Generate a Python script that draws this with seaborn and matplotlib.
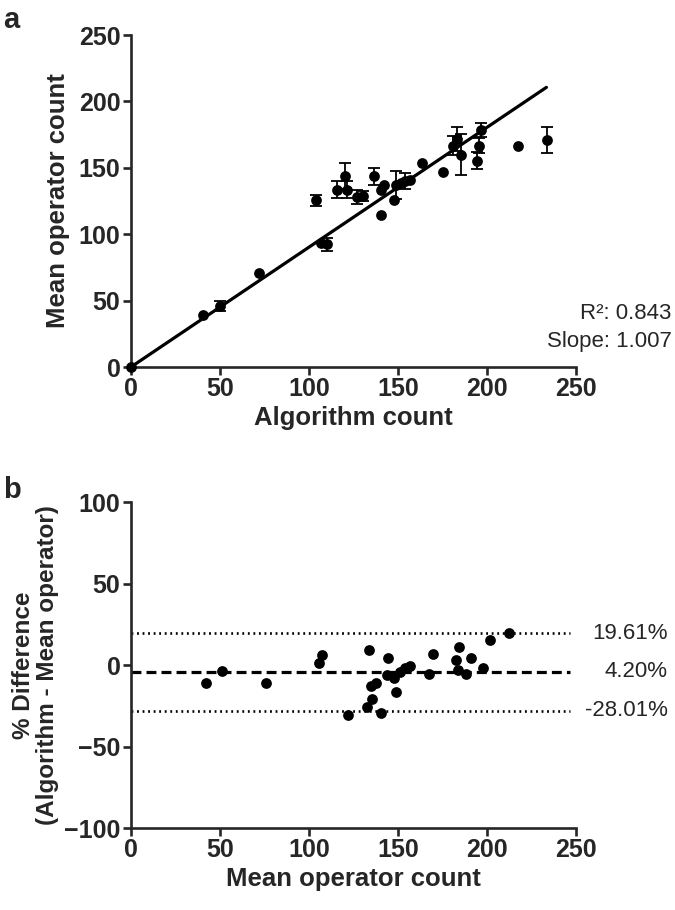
import numpy as np
import pandas as pd
import matplotlib.pyplot as plt
import seaborn as sns

# Panel a: algorithm count vs mean operator count (error bars = SD)
alg_count = [0, 40.4, 49.8, 72.2, 103.9, 106.7, 110.4, 116.0, 120.3, 121.6, 127.2,
             130.3, 136.8, 140.4, 140.5, 142.2, 148.0, 148.8, 151.8, 154.0, 156.8,
             163.4, 175.5, 181.1, 183.4, 185.5, 196.5, 195.6, 194.6, 217.3, 233.9]
op_mean = [0, 39.1, 45.8, 71.1, 125.5, 93.4, 92.4, 133.5, 144.0, 133.5, 128.0,
           128.7, 143.5, 114.2, 133.0, 137.2, 126.0, 137.2, 138.5, 140.0, 140.5,
           153.5, 146.5, 166.8, 171.8, 160.0, 178.6, 166.8, 155.5, 166.3, 171.0]
op_sd = [0, 0, 3.8, 0, 4.1, 0, 4.8, 6.6, 9.6, 6.3, 5.0,
         4.0, 6.3, 0, 0, 0, 0, 10.4, 0, 6.3, 0,
         0, 0, 6.9, 9.0, 15.6, 5.3, 5.4, 6.5, 0, 9.6]
fit_x = [0, 233.5]
fit_y = [0, 210.6]

# Panel b: Bland-Altman style difference plot
mean_op = [42.3, 51.1, 76.0, 105.7, 107.2, 122.2, 132.5, 134.0, 134.8, 135.3,
           137.6, 140.5, 144.1, 144.6, 148.0, 148.8, 151.2, 154.0, 156.8, 167.5,
           169.7, 182.5, 183.6, 184.2, 188.1, 191.2, 198.0, 201.7, 212.6]
pct_diff = [-10.8, -3.7, -11.2, 1.0, 6.1, -30.6, -25.5, 9.2, -12.9, -21.0,
            -10.8, -29.6, -6.1, 4.5, -8.2, -16.3, -4.1, -2.0, -0.6, -5.5,
            6.7, 3.1, -3.1, 10.8, -5.5, 4.1, -1.7, 15.3, 19.8]
loa_upper = 19.61
bias = -4.20
loa_lower = -28.01
line_span = [0, 247]
line_labels = ['19.61%', '4.20%', '-28.01%']

sns.set_style("ticks")
plt.rcParams['font.family'] = ['Liberation Sans', 'DejaVu Sans']

df_a = pd.DataFrame({'alg': alg_count, 'op': op_mean, 'sd': op_sd})
df_b = pd.DataFrame({'mean_op': mean_op, 'diff': pct_diff})

fig = plt.figure(figsize=(6.75, 9.10), dpi=100)
ax1 = fig.add_axes([0.194, 0.5967, 0.659, 0.3648])
ax2 = fig.add_axes([0.194, 0.0901, 0.659, 0.3582])

label_font = dict(fontsize=18.5, fontweight='bold')


def style_axis(ax):
    for side in ['top', 'right']:
        ax.spines[side].set_visible(False)
    for side in ['left', 'bottom']:
        ax.spines[side].set_linewidth(1.9)
    ax.tick_params(width=1.9, length=5.5, direction='out', pad=2)
    for lab in ax.get_xticklabels() + ax.get_yticklabels():
        lab.set_fontsize(18)
        lab.set_fontweight('bold')


# --- Panel a ---
sns.lineplot(x=fit_x, y=fit_y, ax=ax1, color='black', linewidth=2.3)
has_err = df_a[df_a['sd'] > 0]
ax1.errorbar(has_err['alg'], has_err['op'], yerr=has_err['sd'], fmt='none',
             ecolor='black', elinewidth=1.3, capsize=4.5, capthick=1.3, zorder=2)
sns.scatterplot(data=df_a, x='alg', y='op', ax=ax1, color='black', s=60,
                edgecolor='black', linewidth=0, zorder=3, clip_on=False)
ax1.set_xlim(0, 250)
ax1.set_ylim(0, 250)
ax1.set_xticks(np.arange(0, 251, 50))
ax1.set_yticks(np.arange(0, 251, 50))
ax1.set_xlabel('Algorithm count', labelpad=3, **label_font)
ax1.set_ylabel('Mean operator count', labelpad=6, **label_font)
style_axis(ax1)
ax1.text(1.215, 0.160, 'R²: 0.843', transform=ax1.transAxes, ha='right',
         va='center', fontsize=16)
ax1.text(1.215, 0.076, 'Slope: 1.007', transform=ax1.transAxes, ha='right',
         va='center', fontsize=16)

# --- Panel b ---
ax2.plot(line_span, [loa_upper] * 2, color='black', linestyle=(0, (0.7, 1.4)),
         linewidth=1.9, clip_on=False)
ax2.plot(line_span, [loa_lower] * 2, color='black', linestyle=(0, (0.7, 1.4)),
         linewidth=1.9, clip_on=False)
ax2.plot(line_span, [bias] * 2, color='black', linestyle=(0, (3.1, 1.6)),
         linewidth=2.3, clip_on=False)
sns.scatterplot(data=df_b, x='mean_op', y='diff', ax=ax2, color='black', s=60,
                edgecolor='black', linewidth=0, zorder=3)
ax2.set_xlim(0, 250)
ax2.set_ylim(-100, 100)
ax2.set_xticks(np.arange(0, 251, 50))
ax2.set_yticks(np.arange(-100, 101, 50))
ax2.set_xlabel('Mean operator count', labelpad=3, **label_font)
ax2.set_ylabel('% Difference\n(Algorithm - Mean operator)', labelpad=4,
               linespacing=1.05, fontsize=17.5, fontweight='bold')
style_axis(ax2)
for val, txt in zip([loa_upper, bias, loa_lower], line_labels):
    ax2.text(301.7, val, txt, ha='right', va='center', fontsize=16,
             clip_on=False)

fig.text(0.004, 0.993, 'a', fontsize=21, fontweight='bold', va='top')
fig.text(0.004, 0.477, 'b', fontsize=21, fontweight='bold', va='top')

plt.savefig('out.png', dpi=100)
plt.close()
